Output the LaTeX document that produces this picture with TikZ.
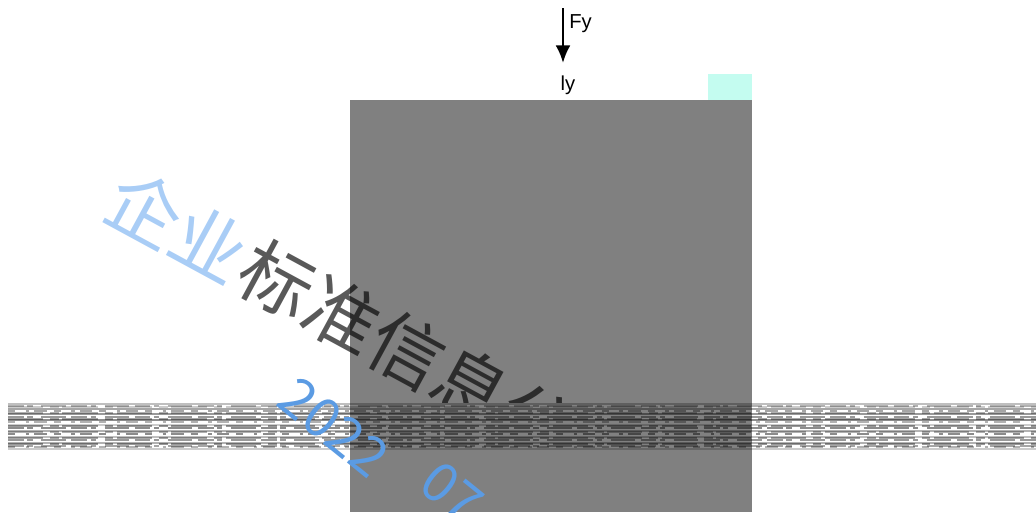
\documentclass[tikz,border=0pt]{standalone}
\usepackage{fontspec}
\setmainfont{Liberation Sans}
\newfontfamily\cjkfont{Noto Sans CJK SC}
\usetikzlibrary{arrows.meta}
\definecolor{panelgray}{HTML}{808080}
\definecolor{patchcyan}{HTML}{C4FCF0}
\definecolor{markblue}{HTML}{5B9BE3}
\definecolor{marklight}{HTML}{A9CDF6}

\begin{document}
\begin{tikzpicture}[
  x=0.02cm, y=-0.02cm,
  tag/.style={inner sep=0pt, font=\fontsize{11.5}{13}\selectfont},
  force/.style={line width=1.5pt, -{Latex[length=10pt, width=8.5pt]}},
  stamp/.style={inner sep=0pt, rotate=-28.5, font=\cjkfont\fontsize{42}{42}\selectfont},
  datestamp/.style={inner sep=0pt, rotate=-39, text=markblue, font=\cjkfont\fontsize{31}{31}\selectfont},
  scanline/.style={line width=#1},
  noiseA/.style={dash pattern=on 9pt off 2pt on 3pt off 5pt on 14pt off 3pt},
  noiseB/.style={dash pattern=on 4pt off 6pt on 2pt off 3pt on 7pt off 4pt},
  noiseC/.style={dash pattern=on 20pt off 4pt on 5pt off 2pt}
]

\useasboundingbox (0,0) rectangle (1036,512);

% Panel
\fill[panelgray] (350,100) rectangle (752,512);
\fill[patchcyan] (708,74) rectangle (752,100);

% Load
\coordinate (fytop) at (563,8);
\coordinate (fybot) at (563,63);
\draw[force] (fytop) -- (fybot);
\node[tag, anchor=west] (fy) at (569,24) {Fy};
\node[tag] (ly) at (568,85) {ly};

% Watermark
\begin{scope}
  \clip (0,0) rectangle (1036,403);
  \node[stamp, text=marklight] (wmfirm) at (178,226) {企业};
  \node[stamp, text=black, text opacity=0.65] (wmrest) at (407,350) {标准信息公};
\end{scope}

% Scan band
\fill[panelgray] (350,403) rectangle (752,450);
\foreach \y/\o/\w in {404/0.25/0.6, 409/0.35/0.6, 414/0.4/0.8, 420/0.45/0.6,
    425/0.2/0.8, 431/0.3/0.6, 437/0.25/0.8, 443/0.3/0.6, 449/0.2/0.6}
  \draw[scanline=\w pt, draw opacity=\o] (8,\y) -- (1036,\y);
\foreach \y/\o in {406/0.3, 417/0.4, 428/0.45, 440/0.4, 446/0.35}
  \draw[scanline=1.3pt, draw opacity=\o, noiseA] (8,\y) -- (1036,\y);
\foreach \y/\o in {411/0.35, 422/0.3, 434/0.45, 447/0.3}
  \draw[scanline=1.1pt, draw opacity=\o, noiseB] (8,\y) -- (1036,\y);
\foreach \y/\o in {407/0.2, 413/0.3, 419/0.35, 426/0.4, 432/0.3, 438/0.35, 444/0.4}
  \draw[scanline=1pt, draw opacity=\o, noiseC] (8,\y) -- (1036,\y);

% Date stamp
\node[datestamp] (year) at (334,427) {2022};
\node[datestamp] (month) at (452,492) {07};

\end{tikzpicture}
\end{document}
